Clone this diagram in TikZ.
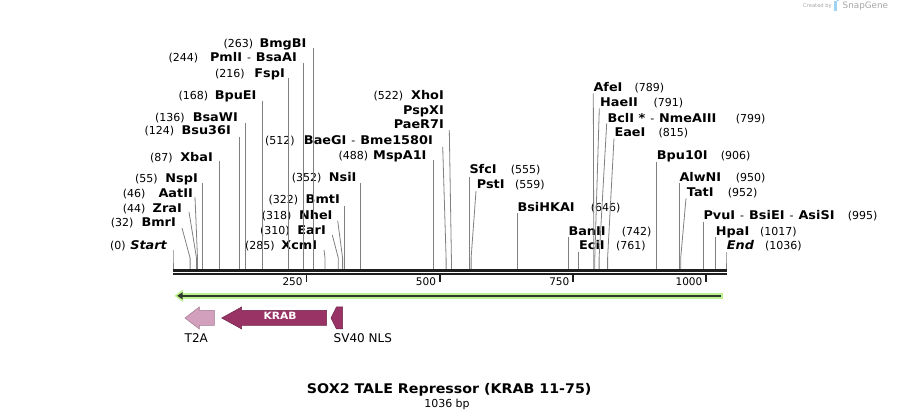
\documentclass[tikz,border=0pt]{standalone}
\usepackage{fontspec}
\setmainfont{DejaVu Sans}[BoldFeatures={FakeStretch=1.07},BoldItalicFeatures={FakeStretch=1.07}]
\definecolor{leadgray}{HTML}{808080}
\definecolor{seqblack}{HTML}{1E1E1E}
\definecolor{lgreen}{HTML}{BDF08E}
\definecolor{dgreen}{HTML}{2F362C}
\definecolor{krab}{HTML}{993366}
\definecolor{krabedge}{HTML}{6A2247}
\definecolor{tta}{HTML}{D2A0BC}
\definecolor{ttaedge}{HTML}{A07890}
\definecolor{logoblue}{HTML}{9ED3F2}
\tikzset{
  nm/.style={font=\fontsize{12}{14}\selectfont\bfseries, inner sep=0pt},
  num/.style={font=\fontsize{11}{13}\selectfont, inner sep=0pt},
  lead/.style={draw=leadgray, line width=0.8pt},
  tickl/.style={font=\fontsize{10.5}{12}\selectfont, inner sep=0pt, anchor=east},
  featlab/.style={font=\fontsize{12}{14}\selectfont, inner sep=0pt, anchor=west},
}
\newcommand{\leadr}[4]{%
  \coordinate (t#1) at (#2,#3);
  \coordinate (k#1) at (#4,258);
  \coordinate (b#1) at (#4,269);
  \draw[lead] (t#1) -- (k#1) -- (b#1);}
\newcommand{\dsh}{\hspace{5pt}{\fontsize{11}{13}\mdseries-}\hspace{5pt}}
\begin{document}
\begin{tikzpicture}[x=1pt,y=-1pt]
\useasboundingbox (0,0) rectangle (900,419);

% ---------- left-side labels ----------
\node[nm,anchor=base east] (Start) at (167,249.4) {\itshape Start};
\node[num,anchor=base west] (nStart) at (110,249.4) {(0)};
\node[nm,anchor=base east] (BmrI) at (176,226.4) {BmrI};
\node[num,anchor=base west] (nBmrI) at (110.7,226.4) {(32)};
\node[nm,anchor=base east] (ZraI) at (182,212.4) {ZraI};
\node[num,anchor=base west] (nZraI) at (122.7,212.4) {(44)};
\node[nm,anchor=base east] (AatII) at (193,197.4) {AatII};
\node[num,anchor=base west] (nAatII) at (122.7,197.4) {(46)};
\node[nm,anchor=base east] (NspI) at (198,182.4) {NspI};
\node[num,anchor=base west] (nNspI) at (135,182.4) {(55)};
\node[nm,anchor=base east] (XbaI) at (213,161.4) {XbaI};
\node[num,anchor=base west] (nXbaI) at (150,161.4) {(87)};
\node[nm,anchor=base east] (Bsu) at (231,134.4) {Bsu36I};
\node[num,anchor=base west] (nBsu) at (144.3,134.4) {(124)};
\node[nm,anchor=base east] (BsaWI) at (238,121.7) {BsaWI};
\node[num,anchor=base west] (nBsaWI) at (155,121.7) {(136)};
\node[nm,anchor=base east] (BpuEI) at (256.7,99.7) {BpuEI};
\node[num,anchor=base west] (nBpuEI) at (178.3,99.7) {(168)};
\node[nm,anchor=base east] (FspI) at (285,77.1) {FspI};
\node[num,anchor=base west] (nFspI) at (215,77.1) {(216)};
\node[nm,anchor=base east] (PmlI) at (297,61.1) {PmlI\dsh BsaAI};
\node[num,anchor=base west] (nPmlI) at (168.3,61.1) {(244)};
\node[nm,anchor=base east] (BmgBI) at (306.7,47.1) {BmgBI};
\node[num,anchor=base west] (nBmgBI) at (223.3,47.1) {(263)};
\node[nm,anchor=base east] (XcmI) at (317.3,249.4) {XcmI};
\node[num,anchor=base west] (nXcmI) at (245,249.4) {(285)};
\node[nm,anchor=base east] (EarI) at (326,234.4) {EarI};
\node[num,anchor=base west] (nEarI) at (260,234.4) {(310)};
\node[nm,anchor=base east] (NheI) at (332.7,219.4) {NheI};
\node[num,anchor=base west] (nNheI) at (261.7,219.4) {(318)};
\node[nm,anchor=base east] (BmtI) at (340,203.7) {BmtI};
\node[num,anchor=base west] (nBmtI) at (268.3,203.7) {(322)};
\node[nm,anchor=base east] (NsiI) at (356.7,181.1) {NsiI};
\node[num,anchor=base west] (nNsiI) at (291.7,181.1) {(352)};
\node[nm,anchor=base east] (MspA) at (426.7,159.4) {MspA1I};
\node[num,anchor=base west] (nMspA) at (338.3,159.4) {(488)};
\node[nm,anchor=base east] (BaeGI) at (433,144.4) {BaeGI\dsh Bme1580I};
\node[num,anchor=base west] (nBaeGI) at (265,144.4) {(512)};
\node[nm,anchor=base east] (XhoI) at (444,99.4) {XhoI};
\node[num,anchor=base west] (nXhoI) at (373.3,99.4) {(522)};
\node[nm,anchor=base east] (PspXI) at (444,114.4) {PspXI};
\node[nm,anchor=base east] (PaeR) at (444,128.7) {PaeR7I};

% ---------- right-side labels ----------
\node[nm,anchor=base west] (SfcI) at (469.3,173.7) {SfcI};
\node[num,anchor=base west] (nSfcI) at (510.7,173.7) {(555)};
\node[nm,anchor=base west] (PstI) at (476.7,188.7) {PstI};
\node[num,anchor=base west] (nPstI) at (515,188.7) {(559)};
\node[nm,anchor=base west] (BsiHKAI) at (517.3,211.1) {BsiHKAI};
\node[num,anchor=base west] (nBsiHKAI) at (590.7,211.1) {(646)};
\node[nm,anchor=base west] (BanII) at (568.3,235.1) {BanII};
\node[num,anchor=base west] (nBanII) at (621.7,235.1) {(742)};
\node[nm,anchor=base west] (EciI) at (579,249.4) {EciI};
\node[num,anchor=base west] (nEciI) at (616,249.4) {(761)};
\node[nm,anchor=base west] (AfeI) at (593.3,91.1) {AfeI};
\node[num,anchor=base west] (nAfeI) at (634.3,91.1) {(789)};
\node[nm,anchor=base west] (HaeII) at (600,106.7) {HaeII};
\node[num,anchor=base west] (nHaeII) at (653.3,106.7) {(791)};
\node[nm,anchor=base west] (BclI) at (607.3,122.1) {BclI *\dsh NmeAIII};
\node[num,anchor=base west] (nBclI) at (735.7,122.1) {(799)};
\node[nm,anchor=base west] (EaeI) at (614.3,136.7) {EaeI};
\node[num,anchor=base west] (nEaeI) at (658.3,136.7) {(815)};
\node[nm,anchor=base west] (Bpu) at (656.7,159.4) {Bpu10I};
\node[num,anchor=base west] (nBpu) at (720.7,159.4) {(906)};
\node[nm,anchor=base west] (AlwNI) at (679.3,181.7) {AlwNI};
\node[num,anchor=base west] (nAlwNI) at (735.7,181.7) {(950)};
\node[nm,anchor=base west] (TatI) at (686.7,196.1) {TatI};
\node[num,anchor=base west] (nTatI) at (727.7,196.1) {(952)};
\node[nm,anchor=base west] (PvuI) at (703.3,219.4) {PvuI\dsh BsiEI\dsh AsiSI};
\node[num,anchor=base west] (nPvuI) at ([xshift=13pt]PvuI.base east) {(995)};
\node[nm,anchor=base west] (HpaI) at (715.7,235.1) {HpaI};
\node[num,anchor=base west] (nHpaI) at (760,235.1) {(1017)};
\node[nm,anchor=base west] (End) at (726.7,249.4) {\itshape End};
\node[num,anchor=base west] (nEnd) at (765,249.4) {(1036)};

% ---------- leader lines ----------
\leadr{Start}{173}{250}{173}
\leadr{BmrI}{182}{228}{190.1}
\leadr{ZraI}{189}{212}{196.5}
\leadr{AatII}{195}{197}{197.5}
\leadr{NspI}{202.3}{183}{202.3}
\leadr{XbaI}{219.4}{161}{219.4}
\leadr{Bsu}{239.1}{136.7}{239.1}
\leadr{BsaWI}{245.5}{123}{245.5}
\leadr{BpuEI}{262.6}{100.7}{262.6}
\leadr{FspI}{288.2}{78}{288.2}
\leadr{PmlI}{303.1}{63}{303.1}
\leadr{BmgBI}{313.3}{48}{313.3}
\leadr{XcmI}{324}{250}{325}
\leadr{EarI}{332.3}{235}{338.3}
\leadr{NheI}{337.7}{220.7}{342.6}
\leadr{BmtI}{344.7}{206}{344.7}
\leadr{NsiI}{360.7}{183.3}{360.7}
\leadr{MspA}{433.3}{160}{433.3}
\leadr{BaeGI}{442.7}{146.7}{446.1}
\leadr{XhoI}{449.3}{130}{451.4}
\leadr{SfcI}{469.3}{176.7}{469.3}
\leadr{PstI}{476}{191}{471.1}
\leadr{BsiHKAI}{517.5}{213.3}{517.5}
\leadr{BanII}{568.7}{236.7}{568.7}
\leadr{EciI}{578.8}{251.7}{578.8}
\leadr{AfeI}{593.3}{93.3}{593.8}
\leadr{HaeII}{599.3}{108.3}{594.8}
\leadr{BclI}{606.7}{123.3}{599.1}
\leadr{EaeI}{614}{138.3}{607.6}
\leadr{Bpu}{656.5}{161.7}{656.5}
\leadr{AlwNI}{679.5}{183.3}{679.5}
\leadr{TatI}{686}{198.3}{680.7}
\leadr{PvuI}{703.5}{221.7}{703.5}
\leadr{HpaI}{715.5}{236.7}{715.5}
\leadr{End}{726}{251.7}{726}

% ---------- sequence line and ruler ----------
\coordinate (seqL) at (173.3,0);
\coordinate (seqR) at (726.7,0);
\draw[seqblack, line width=2.6pt] (173.3,270.3) -- (726.7,270.3);
\draw[seqblack, line width=2.6pt] (173.3,274.2) -- (726.7,274.2);
\foreach \tx/\tl in {306.3/250, 439.7/500, 573/750, 706/1000} {
  \draw[seqblack, line width=1.6pt] (\tx,275) -- (\tx,281.7);
  \node[tickl] at (\tx-3.5,281.7) {\tl};
}

% ---------- green direction arrow ----------
\fill[lgreen] (180,292.7) rectangle (722.7,299);
\fill[lgreen] (174.5,295.8) -- (183,289.5) -- (183,302) -- cycle;
\fill[dgreen] (181,294.7) rectangle (721,296.9);
\fill[dgreen] (177.3,295.8) -- (182.5,292.3) -- (182.5,299.3) -- cycle;

% ---------- features ----------
\draw[fill=tta, draw=ttaedge, line width=0.5pt]
  (185,318) -- (199.3,307) -- (199.3,310.5) -- (214.3,310.5) -- (214.3,325.5)
  -- (199.3,325.5) -- (199.3,329) -- cycle;
\draw[fill=krab, draw=krabedge, line width=0.5pt]
  (221.7,318) -- (241.7,307) -- (241.7,310.5) -- (326.7,310.5) -- (326.7,325.5)
  -- (241.7,325.5) -- (241.7,329) -- cycle;
\node[font=\fontsize{10}{12}\selectfont\bfseries, text=white, inner sep=0pt] (krabl) at (280,315.8) {KRAB};
\draw[fill=krab, draw=krabedge, line width=0.5pt]
  (331,318) -- (336.5,307) -- (342.7,307) -- (342.7,329) -- (336.5,329) -- cycle;
\node[featlab] (t2a) at (184.5,337.7) {T2A};
\node[featlab] (sv40) at (333.5,337.7) {SV40 NLS};

% ---------- title ----------
\node[font=\fontsize{13.3}{16}\selectfont\bfseries, inner sep=0pt, anchor=base] (title) at (449.2,393.5) {SOX2 TALE Repressor (KRAB 11-75)};
\node[font=\fontsize{11}{13}\selectfont, inner sep=0pt, anchor=base] (size) at (447,407.3) {1036 bp};

% ---------- credit ----------
\node[font=\fontsize{5.2}{6}\selectfont, text=black!35, inner sep=0pt, anchor=east] (cred) at (832,6) {Created by};
\fill[logoblue] (834.3,1.5) rectangle (836.8,11) ;
\fill[logoblue] (836.8,1.5) arc[start angle=90, end angle=-90, radius=3] -- cycle;
\node[font=\fontsize{8.8}{10}\selectfont, text=black!35, inner sep=0pt, anchor=west] (snap) at (842.5,6) {SnapGene};
\end{tikzpicture}
\end{document}
